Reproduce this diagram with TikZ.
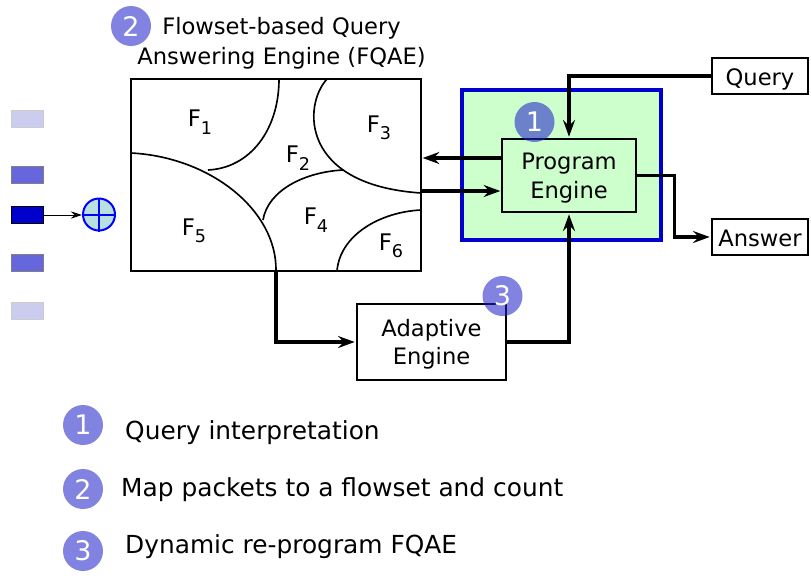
\documentclass[tikz,border=0pt]{standalone}
\usepackage{fontspec}
\setmainfont{DejaVu Sans}
\usetikzlibrary{shapes.geometric, arrows.meta}

\newcommand{\flowset}[1]{F\raisebox{-0.6ex}{\fontsize{15}{15}\selectfont #1}}

\definecolor{badgeblue}{HTML}{2020C8}
\definecolor{enginegreen}{HTML}{CCFFCC}
\definecolor{pktblue}{HTML}{0000CC}
\definecolor{pktmid}{HTML}{6666DD}
\definecolor{pktlight}{HTML}{CCCCEE}
\definecolor{hashfill}{HTML}{B8E0E0}

\tikzset{
	textlabel/.style = {font = \fontsize{19.3}{24}\selectfont, align = center, inner sep = 0 pt},
	steplabel/.style = {font = \fontsize{21.2}{24}\selectfont, anchor = west, inner sep = 0 pt},
	flowlabel/.style = {font = \fontsize{19.5}{24}\selectfont, inner sep = 0 pt},
	blockbox/.style = {draw, line width = 1.1 pt, fill = white, font = \fontsize{19.3}{24.5}\selectfont, align = center, inner sep = 0 pt},
	twolines/.style = {text height = 43 pt},
	oneline/.style = {text height = 16 pt, text depth = 0 pt},
	badge/.style = {circle, minimum size = 1.2 cm, inner sep = 0 pt, fill = badgeblue, fill opacity = 0.56, text opacity = 1, text = white, font = \fontsize{23}{23}\selectfont},
	packet/.style = {draw = gray, fill = pktmid, line width = 1.1 pt, minimum width = 0.96 cm, minimum height = 0.5 cm, inner sep = 0 pt},
	link/.style = {line width = 2.6 pt, shorten > = 0.05 cm},
	region/.style = {line width = 1.4 pt}
}

\begin{document}
\begin{tikzpicture}[> = {Stealth[length=0.5cm, width=0.36cm, inset=0.17cm]}, x = 0.03 cm, y = -0.03 cm]

	\useasboundingbox (0, 0) rectangle (811, 579);

	% Flowset box
	
	\node [blockbox, line width = 1.3 pt, minimum width = 8.7 cm, minimum height = 5.76 cm] (fqae) at (276, 175) {};
	
	\begin{scope}[region]
	
		\draw (279, 79) .. controls (279, 130) and (250, 168) .. (208, 170);
		\draw (131, 153) .. controls (210, 157) and (277, 210) .. (276, 271);
		\draw (327, 79) .. controls (303, 105) and (300, 185) .. (421, 193);
		\draw (263, 220) .. controls (268, 190) and (305, 172) .. (343, 170);
		\draw (337, 271) .. controls (340, 235) and (380, 212) .. (421, 210);
		
	\end{scope}
	
	\node [flowlabel] (f1) at (200, 122) {\flowset{1}};
	\node [flowlabel] (f2) at (298, 158) {\flowset{2}};
	\node [flowlabel] (f3) at (379, 128) {\flowset{3}};
	\node [flowlabel] (f4) at (316, 220) {\flowset{4}};
	\node [flowlabel] (f5) at (194, 231) {\flowset{5}};
	\node [flowlabel] (f6) at (391, 246) {\flowset{6}};

	% Engines
	
	\node [draw = pktblue, fill = enginegreen, line width = 3.4 pt, minimum width = 5.97 cm, minimum height = 4.5 cm] (switch) at (561.5, 165) {};
	\node [blockbox, twolines, fill = enginegreen, minimum width = 4.02 cm, minimum height = 2.19 cm] (program) at (569, 175.5) {Program\\Engine};
	\node [blockbox, twolines, minimum width = 4.47 cm, minimum height = 2.28 cm] (adaptive) at (431.5, 342) {Adaptive\\Engine};
	\node [blockbox, oneline, minimum width = 2.88 cm, minimum height = 1.08 cm] (query) at (760, 76) {Query};
	\node [blockbox, oneline, minimum width = 2.88 cm, minimum height = 1.08 cm] (answer) at (760, 237) {Answer};

	% Links
	
	\coordinate (fqae-in) at (421, 158);
	\coordinate (fqae-out) at (421, 191);
	\coordinate (program-out) at (502, 158);
	\coordinate (program-in) at (502, 191);
	
	\begin{scope}[link, ->]
	
		\draw (query.west) -| (program.north);
		\draw (program-out) -- (fqae-in);
		\draw (fqae-out) -- (program-in);
		\draw (program.east) -- ++(38, 0) |- (answer.west);
		\draw (fqae.south) |- (adaptive.west);
		\draw (adaptive.east) -| (program.south);
		
	\end{scope}

	% Packets
	
	\node [packet, fill = pktlight, draw = black!20] (p1) at (27.5, 119) {};
	\node [packet] (p2) at (27.5, 175) {};
	\node [packet, fill = pktblue, draw = black] (p3) at (27.5, 215) {};
	\node [packet] (p4) at (27.5, 263) {};
	\node [packet, fill = pktlight, draw = black!20] (p5) at (27.5, 311) {};
	
	\node [circle, draw = blue, fill = hashfill, line width = 1.7 pt, minimum size = 0.96 cm, inner sep = 0 pt] (hash) at (99, 214.5) {};
	\draw [blue, line width = 1.7 pt] (hash.north) -- (hash.south);
	\draw [blue, line width = 1.7 pt] (hash.west) -- (hash.east);
	\draw [-{Stealth[length=0.34cm, width=0.22cm, inset=0.12cm]}, line width = 0.7 pt] (p3.east) -- (hash.west |- p3.east);

	% Badges
	
	\node [badge] (b2) at (131, 26) {2};
	\node [badge] (b1) at (534.5, 122) {1};
	\node [badge] (b3) at (502.5, 296) {3};
	
	\node [badge] (key1) at (83, 425) {1};
	\node [badge] (key2) at (83, 489) {2};
	\node [badge] (key3) at (83, 551) {3};

	% Texts
	
	\node [textlabel] (title1) at (281.5, 28) {Flowset-based Query};
	\node [textlabel] (title2) at (281.5, 58) {Answering Engine (FQAE)};
	
	\node [steplabel] (step1) at (125, 433) {Query interpretation};
	\node [steplabel] (step2) at (121, 490) {Map packets to a flowset and count};
	\node [steplabel] (step3) at (125, 547) {Dynamic re-program FQAE};

\end{tikzpicture}
\end{document}
